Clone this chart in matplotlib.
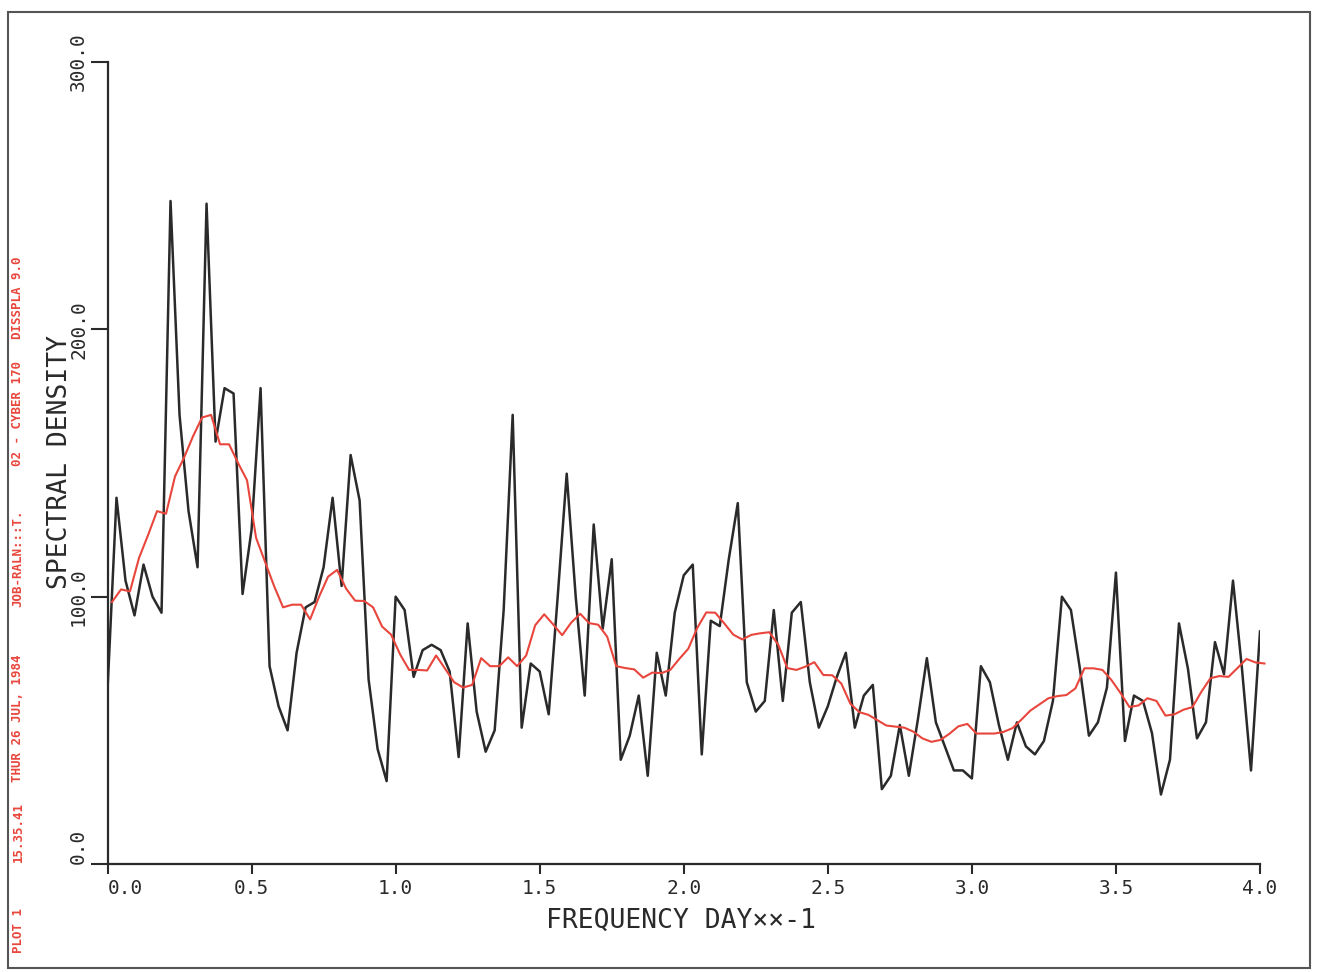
import numpy as np
import matplotlib.pyplot as plt
from matplotlib.patches import Rectangle

# raw spectral estimate, 1/32 day**-1 spacing
freq = np.arange(129) / 32.0
density = [65, 137, 106, 93, 112, 100, 94, 248, 168, 132,
           111, 247, 158, 178, 176, 101, 125, 178, 74, 59,
           50, 79, 96, 98, 111, 137, 104, 153, 136, 69,
           43, 31, 100, 95, 70, 80, 82, 80, 72, 40,
           90, 57, 42, 50, 95, 168, 51, 75, 72, 56,
           100, 146, 100, 63, 127, 88, 114, 39, 48, 63,
           33, 79, 63, 94, 108, 112, 41, 91, 89, 114,
           135, 68, 57, 61, 95, 61, 94, 98, 68, 51,
           59, 70, 79, 51, 63, 67, 28, 33, 52, 33,
           54, 77, 53, 44, 35, 35, 32, 74, 68, 52,
           39, 53, 44, 41, 46, 61, 100, 95, 73, 48,
           53, 66, 109, 46, 63, 61, 49, 26, 39, 90,
           73, 47, 53, 83, 71, 106, 73, 35, 87]

# smoothed estimate (red), half a step offset
smooth_freq = (np.arange(129) + 0.5) / 32.0
smooth = [98, 102.7, 102, 114.5, 123, 132, 131, 145, 152, 160,
          167, 168, 157, 157, 150, 143.5, 122, 113, 104, 96,
          97, 97, 91.5, 100, 107.5, 110, 103, 98.5, 98.4, 96,
          88.8, 85.8, 78.4, 72.6, 72.6, 72.4, 78, 73, 68, 66,
          67, 77, 74, 74, 77.3, 74, 78, 89.3, 93.4, 89.6,
          85.6, 90.3, 93.6, 90.1, 89.5, 85, 74, 73.3, 72.8, 69.7,
          71.6, 71.4, 72.6, 76.7, 80.5, 88.3, 94.1, 94, 90, 85.8,
          84, 85.7, 86.3, 86.7, 82, 73.3, 72.6, 73.8, 75.5, 70.7,
          70.6, 67.5, 60, 56.8, 55.8, 53.8, 51.8, 51.4, 51, 49.5,
          47, 45.7, 46.4, 48.7, 51.5, 52.4, 48.8, 48.8, 48.8, 49.4,
          50.8, 54, 57.4, 59.7, 62, 62.8, 63.2, 65.7, 73.2, 73.2,
          72.6, 68.8, 64, 58.7, 59.3, 62, 61, 55.5, 56, 57.7,
          58.7, 64.5, 69.5, 70.3, 70, 73.3, 76.7, 75.4, 75]

xticks = [0.0, 0.5, 1.0, 1.5, 2.0, 2.5, 3.0, 3.5, 4.0]
yticks = [0.0, 100.0, 200.0, 300.0]

mono = 'DejaVu Sans Mono'
ink = '#2a2a2a'
red = '#e8463c'

W, H = 1317, 972
fig = plt.figure(figsize=(W / 100, H / 100), dpi=100)
ax = fig.add_axes([107.5 / W, 1 - 864 / H, (1260 - 107.5) / W, (864 - 62) / H])

ax.plot(freq, density, color=ink, lw=1.8)
ax.plot(smooth_freq, smooth, color=red, lw=1.5, clip_on=False)

ax.set_xlim(0, 4)
ax.set_ylim(0, 300)
for s in ['top', 'right']:
    ax.spines[s].set_visible(False)
for s in ['left', 'bottom']:
    ax.spines[s].set_color(ink)
    ax.spines[s].set_linewidth(1.6)

ax.set_xticks(xticks)
ax.set_xticklabels(['%.1f' % v for v in xticks], family=mono, fontsize=14, color=ink)
ax.set_yticks(yticks)
ax.set_yticklabels(['%.1f' % v for v in yticks], family=mono, fontsize=14, color=ink,
                   rotation=90, va='center')
ax.tick_params(axis='x', direction='out', length=7, width=1.5, pad=4, colors=ink)
ax.tick_params(axis='y', direction='out', length=12, width=1.5, pad=2, colors=ink)
ax.get_xticklabels()[0].set_ha('left')
ax.get_yticklabels()[0].set_va('bottom')

fig.text(681 / W, 1 - 921 / H, 'FREQUENCY DAY××-1', family=mono, fontsize=19,
         color=ink, ha='center', va='center')
fig.text(60 / W, 1 - 462 / H, 'SPECTRAL DENSITY', family=mono, fontsize=19,
         color=ink, ha='center', va='center', rotation=90)

# red plot stamp down the left edge
stamp = [('PLOT 1', 930), ('15.35.41', 832), ('THUR 26 JUL, 1984', 718),
         ('JOB-RALN:::T.', 558), ('02 - CYBER 170', 413), ('DISSPLA 9.0', 298)]
for txt, yy in stamp:
    fig.text(18 / W, 1 - yy / H, txt, family=mono, fontsize=9, weight='bold',
             color=red, ha='center', va='center', rotation=90)

# page edge of the scan
fig.add_artist(Rectangle((8 / W, 1 - 968 / H), (1310 - 8) / W, (968 - 12) / H,
                         transform=fig.transFigure, fill=False, ec='#555555', lw=1.5))

fig.savefig('out.png', dpi=100)
